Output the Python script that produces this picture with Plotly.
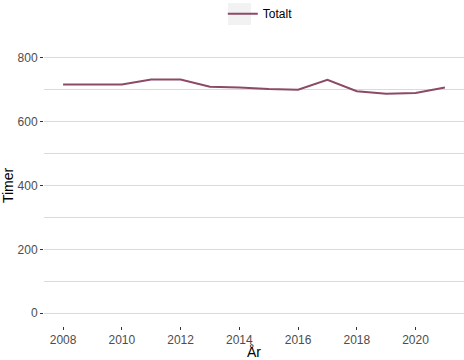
import plotly.graph_objects as go

years = [2008, 2009, 2010, 2011, 2012, 2013, 2014, 2015, 2016, 2017, 2018, 2019, 2020, 2021]
totalt = [716, 716, 716, 732, 732, 709, 707, 702, 700, 731, 695, 687, 690, 707]
series_name = "Totalt"
x_ticks = [2008, 2010, 2012, 2014, 2016, 2018, 2020]
y_ticks = [0, 200, 400, 600, 800]

fig = go.Figure()
fig.add_trace(go.Scatter(x=years, y=totalt, mode="lines", name=series_name,
                         line=dict(color="#8B4A66", width=2)))

fig.update_layout(
    width=464, height=360,
    margin=dict(l=44, r=0, t=45, b=34),
    plot_bgcolor="white", paper_bgcolor="white",
    font=dict(family="Liberation Sans, Arial, sans-serif", size=12, color="#4D4D4D"),
    showlegend=True,
    legend=dict(orientation="h", x=0.515, xanchor="center", yref="container", y=0.962,
                yanchor="middle", font=dict(size=12, color="#000000"),
                bgcolor="rgba(0,0,0,0)"),
    shapes=[dict(type="rect", xref="paper", yref="paper", x0=0.438, x1=0.493,
                 y0=1.071, y1=1.149, fillcolor="#F2F2F2", line=dict(width=0), layer="below")],
    xaxis=dict(range=[2007.35, 2021.65], tickvals=x_ticks, showgrid=False, zeroline=False,
               ticks="outside", ticklen=3, tickcolor="#333333",
               title=dict(text="År", font=dict(size=14, color="#000000"), standoff=0)),
    yaxis=dict(range=[-40, 840], tickvals=y_ticks, showgrid=True, gridcolor="#DADADA",
               gridwidth=1, zeroline=False, ticks="outside", ticklen=3, tickcolor="#333333",
               minor=dict(dtick=100, tick0=0, showgrid=True, gridcolor="#DADADA", gridwidth=1),
               title=dict(text="Timer", font=dict(size=14, color="#000000"), standoff=4)),
)

fig.write_html("out.html", config={"displayModeBar": False},
               post_script="document.body.style.margin='0';")
